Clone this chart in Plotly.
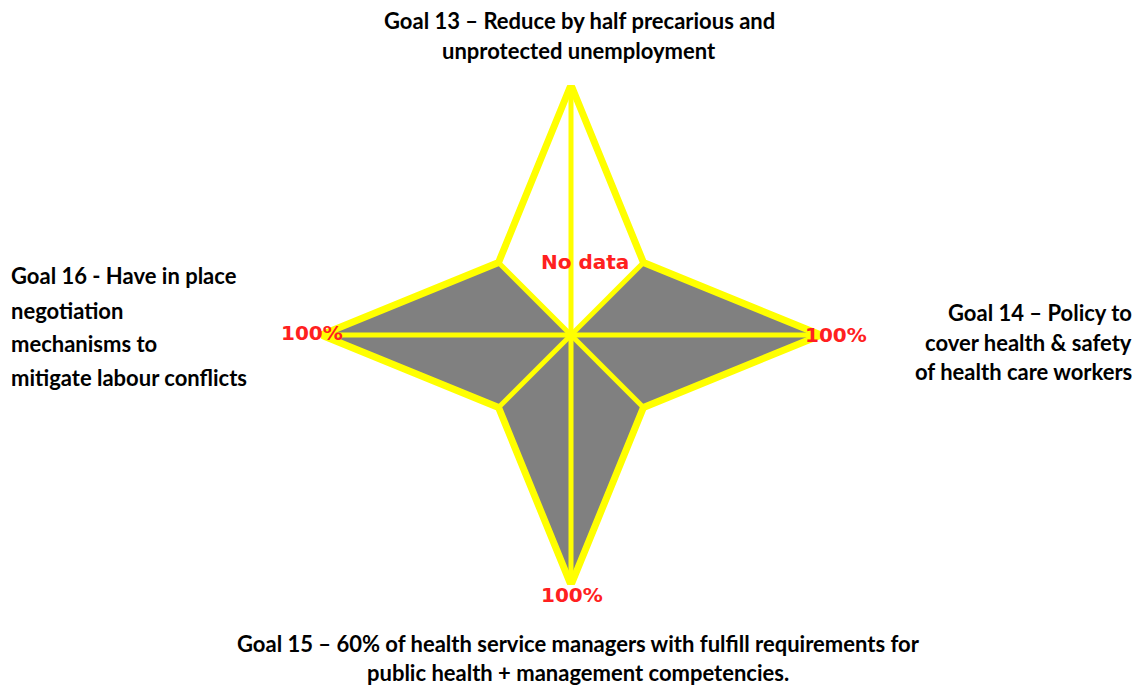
import plotly.graph_objects as go

# star directions (degrees, counterclockwise from the right) and reach (% of target)
theta_deg = [90, 45, 0, -45, -90, -135, 180, 135]
reach = [100, 41, 100, 41, 100, 41, 100, 41]

# goal 13 has no data -> the top quadrant is left unfilled
filled_theta = [0, 45, 0, -45, -90, -135, 180, 135, 0]
filled_reach = [0, 41, 100, 41, 100, 41, 100, 41, 0]

tip_labels = ["100%", "100%", "100%"]

goal_top = ["Goal 13 – Reduce by half precarious and", "unprotected unemployment"]
goal_right = ["Goal 14 – Policy to", "cover health & safety", "of health care workers"]
goal_bottom = [
    "Goal 15 – 60% of health service managers with fulfill requirements for",
    "public health + management competencies.",
]
goal_left = ["Goal 16 - Have in place", "negotiation", "mechanisms to", "mitigate labour conflicts"]

YELLOW = "#ffff00"
GREY = "#808080"
RED = "#ff2020"
W, H = 1132, 677   # page body adds an 8px margin
OFF = 8

fig = go.Figure()

fig.add_trace(go.Scatterpolar(
    r=filled_reach, theta=filled_theta, mode="lines", fill="toself",
    fillcolor=GREY, line=dict(color=GREY, width=0), hoverinfo="skip",
))

# spokes from centre to every vertex
sp_r, sp_t = [], []
for t, v in zip(theta_deg, reach):
    sp_r += [0, v, None]
    sp_t += [t, t, None]
fig.add_trace(go.Scatterpolar(
    r=sp_r, theta=sp_t, mode="lines", connectgaps=False,
    line=dict(color=YELLOW, width=5), hoverinfo="skip",
))

fig.add_trace(go.Scatterpolar(
    r=reach + reach[:1], theta=theta_deg + theta_deg[:1], mode="lines",
    line=dict(color=YELLOW, width=7), hoverinfo="skip",
))

cx, cy, rad = 571 - OFF, 335 - OFF, 250
fig.update_layout(
    width=W, height=H,
    margin=dict(l=0, r=0, t=0, b=0),
    paper_bgcolor="white",
    showlegend=False,
    polar=dict(
        domain=dict(x=[(cx - rad) / W, (cx + rad) / W],
                    y=[(H - cy - rad) / H, (H - cy + rad) / H]),
        bgcolor="white",
        radialaxis=dict(visible=False, range=[0, 100]),
        angularaxis=dict(visible=False),
    ),
)

label_font = dict(family="Lato", size=22, color="black", weight="bold")
red_font = dict(family="DejaVu Sans", size=20, color=RED, weight="bold")


def add_text(txt, x, y, anchor, font):
    fig.add_annotation(
        text=txt, x=(x - OFF) / W, y=1 - (y - OFF) / H, xref="paper", yref="paper",
        xanchor=anchor, yanchor="middle", showarrow=False, font=font,
    )


def add_lines(lines, x, ys, anchor):
    for txt, y in zip(lines, ys):
        add_text(txt, x, y, anchor, label_font)


add_lines(goal_top, 579, [20, 50], "center")
add_lines(goal_right, 1134, [312, 342, 371], "right")
add_lines(goal_bottom, 578, [643, 672], "center")
add_lines(goal_left, 9, [276, 310, 343, 377], "left")

add_text("No data", 585, 262, "center", red_font)
for txt, (x, y) in zip(tip_labels, [(836, 335), (572, 595), (312, 333)]):
    add_text(txt, x, y, "center", red_font)

fig.write_html("out.html")
